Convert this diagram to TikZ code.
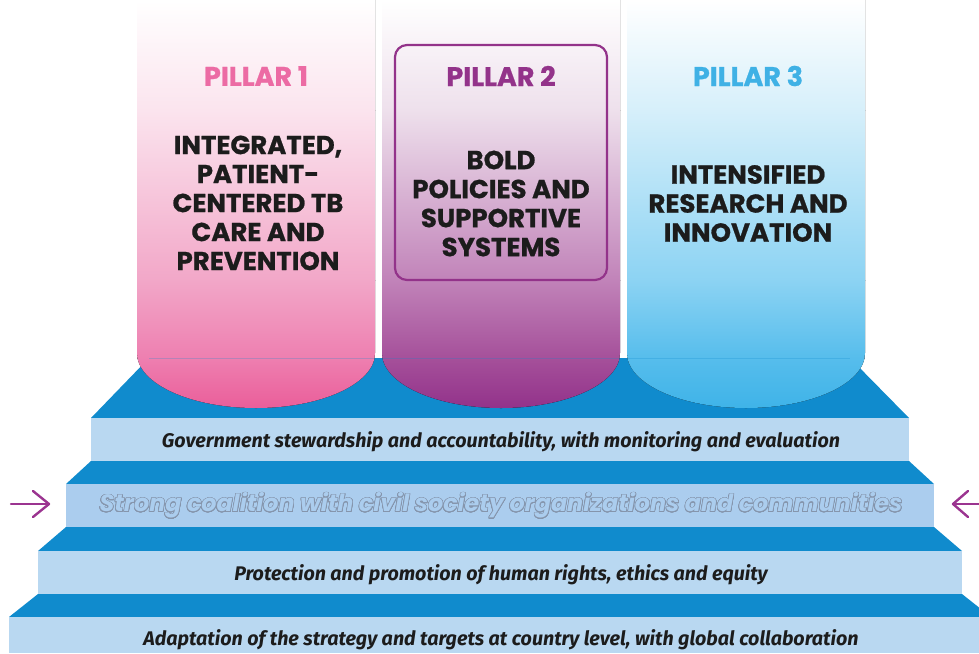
\documentclass[tikz,border=0pt]{standalone}
\usepackage{fontspec}
\usepackage{contour}
\newfontfamily\pillarfont{Poppins}[BoldFeatures={FakeBold=0.8}]
\newfontfamily\bandfont{Fira Sans}
\newfontfamily\outlinefont{Poppins}
\contourlength{0.6pt}
\contournumber{24}
\definecolor{stepdark}{HTML}{108BCD}
\definecolor{bandlight}{HTML}{B9D8F1}
\definecolor{bandmid}{HTML}{ABCDEE}
\definecolor{outlinegray}{HTML}{8595AC}
\definecolor{arrowpurple}{HTML}{9B3490}
\definecolor{textdark}{HTML}{1C1C1C}
\definecolor{ponetitle}{HTML}{EC6BA4}
\definecolor{ptwotitle}{HTML}{93338A}
\definecolor{pthreetitle}{HTML}{3FB1E5}
\definecolor{pa1}{HTML}{FBE4EE}\definecolor{pa2}{HTML}{F2A7C8}\definecolor{pa3}{HTML}{EE7FB0}\definecolor{pa4}{HTML}{EA5D99}
\definecolor{pb1}{HTML}{EEE0EC}\definecolor{pb2}{HTML}{C183B9}\definecolor{pb3}{HTML}{A5509A}\definecolor{pb4}{HTML}{92318A}
\definecolor{pc1}{HTML}{D6EFFA}\definecolor{pc2}{HTML}{8CD3F3}\definecolor{pc3}{HTML}{56BDEC}\definecolor{pc4}{HTML}{3EB3E8}
\tikzset{
  pillartitle/.style={font=\pillarfont\bfseries\fontsize{27}{29}\selectfont, inner sep=0pt},
  pillarbody/.style={font=\pillarfont\bfseries\fontsize{26}{29}\selectfont, text=textdark, align=center, inner sep=0pt},
  bandtext/.style={font=\bandfont\bfseries\itshape\fontsize{19.7}{22}\selectfont, text=textdark, inner sep=0pt},
  arrowline/.style={draw=arrowpurple, line width=2.4pt, line cap=round, line join=round},
}
\begin{document}
\begin{tikzpicture}[x=1pt,y=-1pt]
\useasboundingbox (0,0) rectangle (979,653);
\clip (0,0) rectangle (979,653);
% steps
\fill[stepdark] (149,358) -- (850,358) -- (909,418) -- (91,418) -- cycle;
\fill[bandlight] (91,418) rectangle (909,461);
\fill[stepdark] (91,461) -- (909,461) -- (934,484) -- (66,484) -- cycle;
\fill[bandmid] (66,484) rectangle (934,527);
\fill[stepdark] (66,527) -- (934,527) -- (962,551) -- (38,551) -- cycle;
\fill[bandlight] (38,551) rectangle (962,594);
\fill[stepdark] (38,594) -- (962,594) -- (991,617) -- (9,617) -- cycle;
\fill[bandlight] (9,617) rectangle (991,653);
% pillar 1
\begin{scope}
\clip (137,0) -- (375,0) -- (375,353) .. controls (375,383.4) and (321.7,408) .. (256,408) .. controls (190.3,408) and (137,383.4) .. (137,353) -- cycle;
\fill[top color=white, bottom color=pa1] (130,0) rectangle (380,110.5);
\fill[top color=pa1, bottom color=pa2] (130,110) rectangle (380,280.5);
\fill[top color=pa2, bottom color=pa3] (130,280) rectangle (380,358.5);
\fill[top color=pa3, bottom color=pa4] (130,358) rectangle (380,410);
\end{scope}
% pillar 2
\begin{scope}
\clip (382,0) -- (620,0) -- (620,353) .. controls (620,383.4) and (566.7,408) .. (501,408) .. controls (435.3,408) and (382,383.4) .. (382,353) -- cycle;
\fill[top color=white, bottom color=pb1] (375,0) rectangle (625,110.5);
\fill[top color=pb1, bottom color=pb2] (375,110) rectangle (625,280.5);
\fill[top color=pb2, bottom color=pb3] (375,280) rectangle (625,358.5);
\fill[top color=pb3, bottom color=pb4] (375,358) rectangle (625,410);
\end{scope}
% pillar 3
\begin{scope}
\clip (627,0) -- (865,0) -- (865,353) .. controls (865,383.4) and (811.7,408) .. (746,408) .. controls (680.3,408) and (627,383.4) .. (627,353) -- cycle;
\fill[top color=white, bottom color=pc1] (620,0) rectangle (870,110.5);
\fill[top color=pc1, bottom color=pc2] (620,110) rectangle (870,280.5);
\fill[top color=pc2, bottom color=pc3] (620,280) rectangle (870,358.5);
\fill[top color=pc3, bottom color=pc4] (620,358) rectangle (870,410);
\end{scope}
% faint step edge showing through pillars
\draw[stepdark, opacity=0.25, line width=0.6pt] (149,358) -- (850,358);
% pillar 2 frame
\draw[ptwotitle, line width=2.2pt, rounded corners=12pt] (395,45) rectangle (607,280);
% titles
\node[pillartitle, text=ponetitle] (t1) at (256,76) {PILLAR 1};
\node[pillartitle, text=ptwotitle] (t2) at (501,76) {PILLAR 2};
\node[pillartitle, text=pthreetitle] (t3) at (748,76) {PILLAR 3};
\node[pillarbody] (b1) at (258,203) {INTEGRATED,\\PATIENT-\\CENTERED TB\\CARE AND\\PREVENTION};
\node[pillarbody] (b2) at (501,203.5) {BOLD\\POLICIES AND\\SUPPORTIVE\\SYSTEMS};
\node[pillarbody] (b3) at (748,203.5) {INTENSIFIED\\RESEARCH AND\\INNOVATION};
% band texts
\node[bandtext] (s1) at (501,442) {Government stewardship and accountability, with monitoring and evaluation};
\node[font=\outlinefont\bfseries\itshape\fontsize{23.8}{26}\selectfont, text=bandmid, inner sep=0pt] (s2) at (501,506) {\contour{outlinegray}{Strong coalition with civil society organizations and communities}};
\node[bandtext] (s3) at (501,575) {Protection and promotion of human rights, ethics and equity};
\node[bandtext] (s4) at (501,640) {Adaptation of the strategy and targets at country level, with global collaboration};
% arrows
\coordinate (la0) at (11,504); \coordinate (la1) at (49,504);
\coordinate (la2) at (33,491); \coordinate (la3) at (33,517);
\draw[arrowline] (la0) -- (la1);
\draw[arrowline] (la2) -- (la1) -- (la3);
\coordinate (ra0) at (985,504); \coordinate (ra1) at (953,504);
\coordinate (ra2) at (968,491); \coordinate (ra3) at (968,517);
\draw[arrowline] (ra0) -- (ra1);
\draw[arrowline] (ra2) -- (ra1) -- (ra3);
\end{tikzpicture}
\end{document}
